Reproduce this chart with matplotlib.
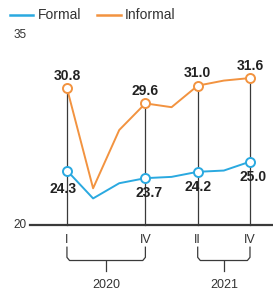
import matplotlib.pyplot as plt

# quarters 2020 I .. 2021 IV
quarters = ["I", "II", "III", "IV", "I", "II", "III", "IV"]
formal = [24.3, 22.1, 23.3, 23.7, 23.8, 24.2, 24.3, 25.0]
informal = [30.8, 22.9, 27.5, 29.6, 29.3, 31.0, 31.4, 31.6]
marked = [0, 3, 5, 7]
years = ["2020", "2021"]
year_span = [(0, 3), (5, 7)]

BLUE = "#2aa9e0"
ORANGE = "#f29340"
DARK = "#3a3a3a"

plt.rcParams["font.family"] = ["Liberation Sans", "DejaVu Sans"]

fig = plt.figure(figsize=(2.73, 2.97), dpi=100)
ax = fig.add_axes([0, 0, 1, 1])
ax.set_xlim(-2.56, 7.88)
ax.set_ylim(14.32, 37.76)
ax.axis("off")

x = list(range(len(quarters)))

# vertical drop lines
for i in marked:
    ax.plot([i, i], [20, informal[i]], color=DARK, lw=0.9, zorder=1)

# base axis line
ax.plot([-1.4, 7.88], [20, 20], color=DARK, lw=1.6, zorder=1)
ax.text(-1.55, 20, "20", ha="right", va="center", fontsize=8.5, color="#333")
ax.text(-1.55, 35, "35", ha="right", va="center", fontsize=8.5, color="#333")

ax.plot(x, informal, color=ORANGE, lw=1.4, zorder=2)
ax.plot(x, formal, color=BLUE, lw=1.4, zorder=2)
ax.plot(marked, [informal[i] for i in marked], "o", ms=6.5, mfc="white",
        mec=ORANGE, mew=1.4, zorder=3)
ax.plot(marked, [formal[i] for i in marked], "o", ms=6.5, mfc="white",
        mec=BLUE, mew=1.4, zorder=3)

for i in marked:
    ax.annotate(f"{informal[i]:.1f}", (i, informal[i]), xytext=(0, 9),
                textcoords="offset points", ha="center", va="center",
                fontsize=10, fontweight="bold", color="#222")
    dx, dy = {0: (-3, -13), 3: (3, -11), 5: (0, -11), 7: (2, -11)}[i]
    ax.annotate(f"{formal[i]:.1f}", (i, formal[i]), xytext=(dx, dy),
                textcoords="offset points", ha="center", va="center",
                fontsize=10, fontweight="bold", color="#222")

# quarter tick labels
for i in marked:
    ax.text(i, 18.8, quarters[i], ha="center", va="center", fontsize=9, color="#333")

# braces and year labels
for (a, b), yr in zip(year_span, years):
    ax.plot([a, a, a + 0.1, b - 0.1, b, b],
            [18.25, 17.45, 17.2, 17.2, 17.45, 18.25], color=DARK, lw=0.9)
    m = (a + b) / 2
    ax.plot([m, m], [17.2, 16.35], color=DARK, lw=0.9)
    ax.text(m, 15.3, yr, ha="center", va="center", fontsize=9, color="#333")

# legend
fig.lines.append(plt.Line2D([10 / 273, 33 / 273], [1 - 15 / 297] * 2,
                            transform=fig.transFigure, color=BLUE, lw=1.8))
fig.text(38 / 273, 1 - 15 / 297, "Formal", ha="left", va="center", fontsize=10, color="#333")
fig.lines.append(plt.Line2D([97 / 273, 121 / 273], [1 - 15 / 297] * 2,
                            transform=fig.transFigure, color=ORANGE, lw=1.8))
fig.text(125 / 273, 1 - 15 / 297, "Informal", ha="left", va="center", fontsize=10, color="#333")

fig.savefig("out.png", dpi=100)
